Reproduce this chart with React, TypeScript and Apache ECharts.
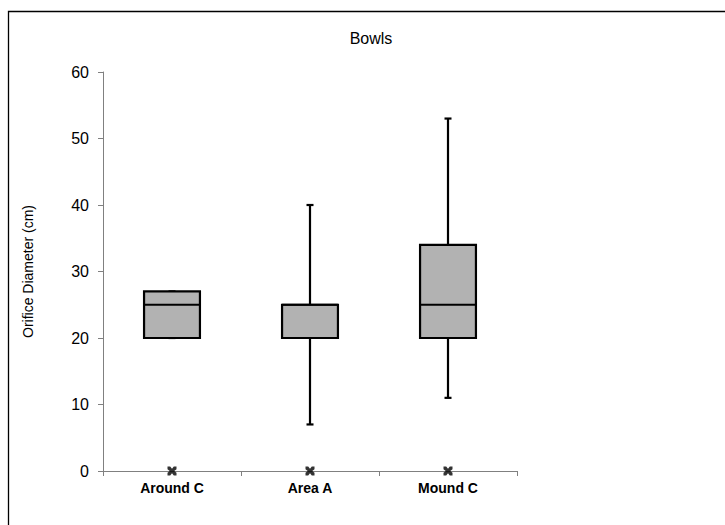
import React, { useEffect, useRef } from "react";
import * as echarts from "echarts";

const categories = ["Around C", "Area A", "Mound C"];
const minValues = [20, 7, 11];
const q1Values = [20, 20, 20];
const medianValues = [25, 25, 25];
const q3Values = [27, 25, 34];
const maxValues = [27, 40, 53];
const markerValues = [0, 0, 0];
const yTicks = { min: 0, max: 60, interval: 10 };

const FONT = "'Liberation Sans', Arial, sans-serif";
const AXIS_GREY = "#808080";

export default function App() {
  const ref = useRef<HTMLDivElement>(null);
  useEffect(() => {
    if (!ref.current) return;
    const chart = echarts.init(ref.current, undefined, { renderer: "svg" });
    const boxData = categories.map((_, i) => [
      i,
      minValues[i],
      q1Values[i],
      medianValues[i],
      q3Values[i],
      maxValues[i],
    ]);
    const option: any = {
      animation: false,
      backgroundColor: "#ffffff",
      textStyle: { fontFamily: FONT },
      title: {
        text: "Bowls",
        left: 366,
        textAlign: "center",
        top: 25,
        textStyle: { fontFamily: FONT, fontSize: 16, fontWeight: "normal", color: "#000" },
      },
      graphic: [
        {
          type: "rect",
          shape: { x: 8.5, y: 11.5, width: 800, height: 600 },
          style: { fill: "none", stroke: "#000", lineWidth: 1.3 },
          silent: true,
          z: 0,
        },
      ],
      grid: { left: 103, right: 208, top: 72, bottom: 54, containLabel: false },
      xAxis: {
        type: "category",
        data: categories,
        boundaryGap: true,
        axisLine: { show: true, lineStyle: { color: AXIS_GREY, width: 1 } },
        axisTick: { show: true, length: 5, inside: false, lineStyle: { color: AXIS_GREY } },
        axisLabel: {
          fontFamily: FONT,
          fontSize: 14,
          fontWeight: "bold",
          color: "#000",
          margin: 10,
        },
        splitLine: { show: false },
      },
      yAxis: {
        type: "value",
        min: yTicks.min,
        max: yTicks.max,
        interval: yTicks.interval,
        name: "Orifice Diameter (cm)",
        nameLocation: "middle",
        nameGap: 68,
        nameTextStyle: { fontFamily: FONT, fontSize: 14, color: "#000" },
        axisLine: { show: true, lineStyle: { color: AXIS_GREY, width: 1 } },
        axisTick: { show: true, length: 5, inside: false, lineStyle: { color: AXIS_GREY } },
        axisLabel: { fontFamily: FONT, fontSize: 16, color: "#000", margin: 14 },
        splitLine: { show: false },
      },
      series: [
        {
          type: "custom",
          data: boxData,
          encode: { x: 0, y: [1, 2, 3, 4, 5] },
          renderItem: (params: any, api: any) => {
            const x = api.value(0);
            const pMin = api.coord([x, api.value(1)]);
            const pQ1 = api.coord([x, api.value(2)]);
            const pMed = api.coord([x, api.value(3)]);
            const pQ3 = api.coord([x, api.value(4)]);
            const pMax = api.coord([x, api.value(5)]);
            const band = api.size([1, 0])[0];
            const boxW = band * 0.405;
            const capW = 7;
            const cx = pMed[0];
            const stroke = { stroke: "#000", lineWidth: 2.2 };
            return {
              type: "group",
              children: [
                {
                  type: "line",
                  shape: { x1: cx, y1: pQ3[1], x2: cx, y2: pMax[1] },
                  style: stroke,
                },
                {
                  type: "line",
                  shape: { x1: cx, y1: pQ1[1], x2: cx, y2: pMin[1] },
                  style: stroke,
                },
                {
                  type: "line",
                  shape: { x1: cx - capW / 2, y1: pMax[1], x2: cx + capW / 2, y2: pMax[1] },
                  style: stroke,
                },
                {
                  type: "line",
                  shape: { x1: cx - capW / 2, y1: pMin[1], x2: cx + capW / 2, y2: pMin[1] },
                  style: stroke,
                },
                {
                  type: "rect",
                  shape: {
                    x: cx - boxW / 2,
                    y: pQ3[1],
                    width: boxW,
                    height: pQ1[1] - pQ3[1],
                  },
                  style: { fill: "#b2b2b2", stroke: "#000", lineWidth: 2.2 },
                },
                {
                  type: "line",
                  shape: { x1: cx - boxW / 2, y1: pMed[1], x2: cx + boxW / 2, y2: pMed[1] },
                  style: stroke,
                },
              ],
            };
          },
          z: 2,
        },
        {
          type: "scatter",
          data: categories.map((c, i) => [c, markerValues[i]]),
          symbol:
            "path://M0,0 L3,0 L5,2.5 L7,0 L10,0 L10,3 L7.5,5 L10,7 L10,10 L7,10 L5,7.5 L3,10 L0,10 L0,7 L2.5,5 L0,3 Z",
          symbolSize: 9,
          itemStyle: { color: "#000" },
          z: 5,
        },
      ],
    };
    chart.setOption(option);
    return () => chart.dispose();
  }, []);
  return (
    <div
      ref={ref}
      style={{ position: "fixed", left: 0, top: 0, width: 725, height: 525 }}
    />
  );
}
